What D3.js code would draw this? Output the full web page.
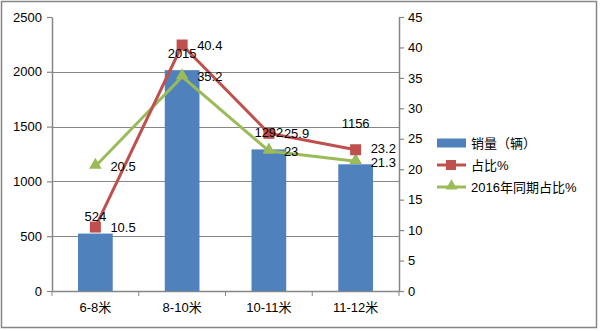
<!DOCTYPE html>
<html>
<head>
<meta charset="utf-8">
<script src="https://cdn.jsdelivr.net/npm/d3@7"></script>
<style>
  html, body { margin: 0; padding: 0; background: #fff; }
  svg text { font-family: "Liberation Sans", "Noto Sans CJK SC", sans-serif; fill: #000; }
</style>
</head>
<body>
<svg id="chart" width="600" height="331"></svg>
<script>
// Bus sales by length class
const categories = ["6-8米", "8-10米", "10-11米", "11-12米"];
const sales = [524, 2015, 1292, 1156];
const share = [10.5, 40.4, 25.9, 23.2];
const share2016 = [20.5, 35.2, 23, 21.3];
const leftTicks = [0, 500, 1000, 1500, 2000, 2500];
const rightTicks = [0, 5, 10, 15, 20, 25, 30, 35, 40, 45];
const seriesNames = ["销量（辆）", "占比%", "2016年同期占比%"];

const BLUE = "#4F81BD", RED = "#C0504D", GREEN = "#9BBB59", AXIS = "#868686";

const svg = d3.select("#chart");
const plot = { left: 52, right: 399, top: 17, bottom: 291 };

// outer frame
svg.append("rect").attr("x", 1.5).attr("y", 1.5).attr("width", 595).attr("height", 326)
  .attr("fill", "none").attr("stroke", AXIS).attr("stroke-width", 1.5);

const x = d3.scaleBand().domain(categories).range([plot.left, plot.right]).paddingInner(0.6).paddingOuter(0.3);
const xc = d3.scaleBand().domain(categories).range([plot.left, plot.right]);
const yL = d3.scaleLinear().domain([0, 2500]).range([plot.bottom, plot.top]);
const yR = d3.scaleLinear().domain([0, 45]).range([plot.bottom, plot.top]);
const cx = c => xc(c) + xc.bandwidth() / 2;

// horizontal gridlines
svg.append("g").selectAll("line").data(leftTicks.filter(t => t > 0 && t < 2500)).join("line")
  .attr("x1", plot.left).attr("x2", plot.right)
  .attr("y1", d => Math.round(yL(d)) + 0.5).attr("y2", d => Math.round(yL(d)) + 0.5)
  .attr("stroke", AXIS).attr("stroke-width", 1);

// left axis
const gL = svg.append("g").attr("transform", `translate(${plot.left},0)`)
  .call(d3.axisLeft(yL).tickValues(leftTicks).tickFormat(d3.format("d")).tickSize(5).tickPadding(5).tickSizeOuter(0));
// right axis
const gR = svg.append("g").attr("transform", `translate(${plot.right},0)`)
  .call(d3.axisRight(yR).tickValues(rightTicks).tickFormat(d3.format("d")).tickSize(5).tickPadding(4).tickSizeOuter(0));
// bottom axis with ticks on band boundaries
const gB = svg.append("g").attr("transform", `translate(0,${plot.bottom})`)
  .call(d3.axisBottom(xc).tickSize(0).tickPadding(12));
gB.append("g").selectAll("line").data(d3.range(categories.length + 1)).join("line")
  .attr("x1", i => plot.left + i * xc.step()).attr("x2", i => plot.left + i * xc.step())
  .attr("y1", 0).attr("y2", 5).attr("stroke", AXIS);

[gL, gR, gB].forEach(g => {
  g.select(".domain").attr("stroke", AXIS).attr("stroke-width", 1.5);
  g.selectAll(".tick line").attr("stroke", AXIS).attr("stroke-width", 1.2);
  g.selectAll("text").attr("font-size", 13).attr("fill", "#000")
    .attr("font-family", "'Liberation Sans','Noto Sans CJK SC',sans-serif");
});

// bars
svg.append("g").selectAll("rect").data(categories).join("rect")
  .attr("x", (c, i) => x(c)).attr("width", x.bandwidth())
  .attr("y", (c, i) => yL(sales[i])).attr("height", (c, i) => yL(0) - yL(sales[i]))
  .attr("fill", BLUE);

// lines
const line = d3.line().x((d, i) => cx(categories[i])).y(d => yR(d));
svg.append("path").datum(share2016).attr("d", line)
  .attr("fill", "none").attr("stroke", GREEN).attr("stroke-width", 3).attr("stroke-linejoin", "round");
svg.append("path").datum(share).attr("d", line)
  .attr("fill", "none").attr("stroke", RED).attr("stroke-width", 3).attr("stroke-linejoin", "round");

const tri = d3.symbol().type(d3.symbolTriangle).size(70);
svg.append("g").selectAll("path").data(share2016).join("path")
  .attr("d", tri).attr("transform", (d, i) => `translate(${cx(categories[i])},${yR(d) - 1})`)
  .attr("fill", GREEN);
svg.append("g").selectAll("rect").data(share).join("rect")
  .attr("x", (d, i) => cx(categories[i]) - 5.5).attr("y", d => yR(d) - 5.5)
  .attr("width", 11).attr("height", 11).attr("fill", RED);

// value labels; the two share labels of a category are pushed apart when they crowd
const labels = svg.append("g").attr("font-size", 13);
labels.selectAll(".bl").data(sales).join("text")
  .attr("x", (d, i) => cx(categories[i]))
  .attr("y", (d, i) => yL(d) - (i === 3 ? 41 : 17))
  .attr("dy", "0.35em").attr("text-anchor", "middle").text(d => d);
const gap = 14;
const pos = share.map((d, i) => {
  let a = yR(d), b = yR(share2016[i]);
  const diff = Math.abs(a - b);
  if (diff < gap) {
    const push = (gap - diff) / 2;
    if (a < b) { a -= push; b += push; } else { a += push; b -= push; }
  }
  return [a, b];
});
labels.selectAll(".sl").data(share).join("text")
  .attr("x", (d, i) => cx(categories[i]) + 15).attr("y", (d, i) => pos[i][0])
  .attr("dy", "0.35em").text(d => d);
labels.selectAll(".gl").data(share2016).join("text")
  .attr("x", (d, i) => cx(categories[i]) + 15).attr("y", (d, i) => pos[i][1])
  .attr("dy", "0.35em").text(d => d);

// legend
const lg = svg.append("g").attr("transform", "translate(437,143)");
const colors = [BLUE, RED, GREEN];
seriesNames.forEach((name, i) => {
  const g = lg.append("g").attr("transform", `translate(0,${i * 22})`);
  if (i === 0) {
    g.append("rect").attr("x", 0).attr("y", -4.5).attr("width", 29).attr("height", 9).attr("fill", BLUE);
  } else {
    g.append("line").attr("x1", 0).attr("x2", 29).attr("y1", 0).attr("y2", 0)
      .attr("stroke", colors[i]).attr("stroke-width", 3);
    if (i === 1) g.append("rect").attr("x", 9).attr("y", -5).attr("width", 10).attr("height", 10).attr("fill", RED);
    else g.append("path").attr("d", d3.symbol().type(d3.symbolTriangle).size(60)).attr("transform", "translate(14.5,-1)").attr("fill", GREEN);
  }
  g.append("text").attr("x", 34).attr("y", 0).attr("dy", "0.35em").attr("font-size", 13).text(name);
});
</script>
</body>
</html>
